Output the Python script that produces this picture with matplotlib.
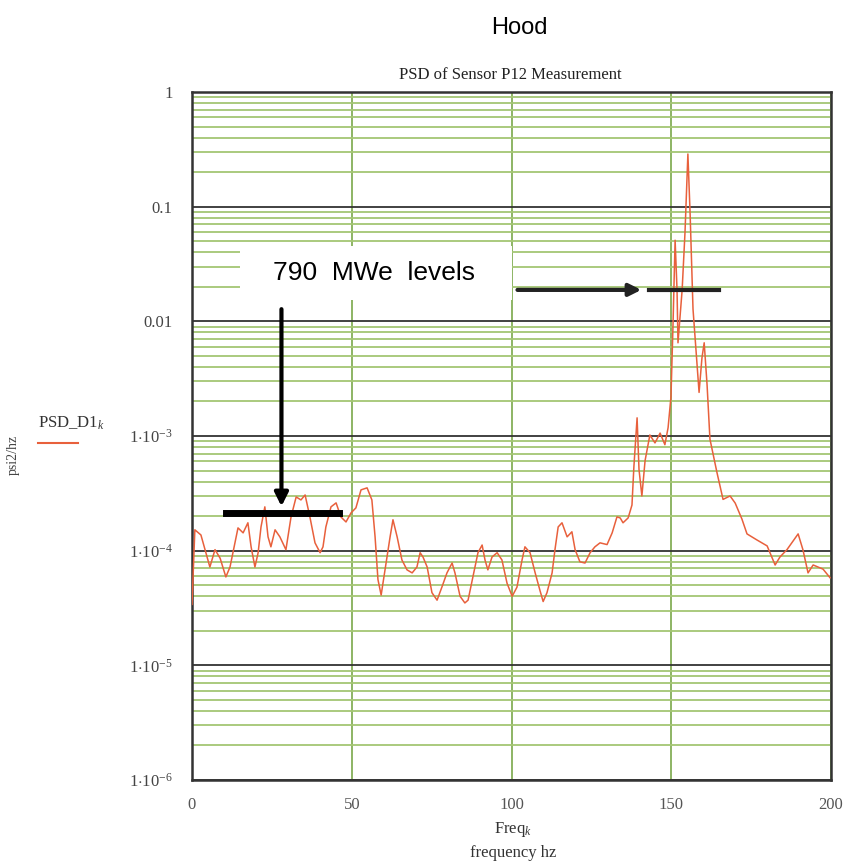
import numpy as np
import matplotlib.pyplot as plt
from matplotlib.ticker import FixedLocator, LogLocator, NullFormatter

# PSD of sensor P12
freq = [0.0, 0.9, 2.8, 5.6, 7.2, 8.8, 10.6, 11.9, 13.5, 14.4, 16.0, 17.5, 18.5, 19.7,
        20.7, 21.6, 22.8, 23.8, 24.7, 26.0, 27.5, 29.4, 31.0, 32.6, 34.1, 35.4, 36.9,
        38.5, 40.1, 41.0, 41.9, 43.5, 45.1, 46.6, 48.2, 49.8, 51.3, 52.9, 54.8, 56.3,
        57.3, 58.2, 59.2, 60.4, 62.0, 62.9, 64.2, 65.7, 67.3, 68.9, 70.4, 71.4, 72.3,
        73.6, 75.1, 76.7, 78.2, 79.8, 81.4, 82.3, 83.9, 85.4, 86.4, 87.9, 89.5, 90.8,
        91.7, 92.6, 93.9, 95.5, 97.0, 98.6, 100.2, 101.7, 103.3, 104.2, 105.8, 107.4,
        108.9, 109.9, 111.1, 112.7, 113.6, 114.6, 115.8, 117.4, 118.9, 119.9, 121.4,
        123.0, 124.6, 126.1, 127.7, 129.9, 131.5, 133.0, 134.0, 134.9, 136.5, 137.7,
        138.3, 139.3, 139.9, 140.8, 141.8, 143.3, 144.9, 146.5, 148.0, 149.0, 149.9,
        150.5, 151.2, 151.8, 152.1, 153.4, 154.3, 155.2, 155.9, 156.8, 158.1, 158.7,
        159.6, 160.3, 161.2, 162.1, 164.3, 166.2, 168.4, 170.0, 172.1, 173.7, 176.8,
        180.0, 182.5, 184.0, 186.2, 189.7, 191.2, 192.8, 194.4, 197.5, 199.7]
psd = [3.4e-5, 1.52e-4, 1.37e-4, 7.2e-5, 1.02e-4, 8.6e-5, 5.9e-5, 7.2e-5, 1.19e-4,
       1.58e-4, 1.43e-4, 1.75e-4, 1.08e-4, 7.2e-5, 9.6e-5, 1.61e-4, 2.41e-4, 1.32e-4,
       1.08e-4, 1.52e-4, 1.32e-4, 1.02e-4, 1.97e-4, 2.94e-4, 2.77e-4, 3.06e-4, 1.97e-4,
       1.17e-4, 9.6e-5, 1.08e-4, 1.61e-4, 2.41e-4, 2.61e-4, 1.97e-4, 1.78e-4, 2.14e-4,
       2.36e-4, 3.39e-4, 3.53e-4, 2.77e-4, 1.32e-4, 5.6e-5, 4.1e-5, 6.8e-5, 1.32e-4,
       1.86e-4, 1.32e-4, 8.3e-5, 6.8e-5, 6.4e-5, 7.2e-5, 9.6e-5, 8.8e-5, 7.2e-5, 4.3e-5,
       3.7e-5, 4.8e-5, 6.4e-5, 7.8e-5, 6.4e-5, 4.0e-5, 3.5e-5, 3.7e-5, 5.9e-5, 9.6e-5,
       1.12e-4, 8.3e-5, 6.8e-5, 8.8e-5, 9.6e-5, 8.3e-5, 5.2e-5, 4.0e-5, 4.8e-5, 8.3e-5,
       1.08e-4, 9.6e-5, 6.4e-5, 4.5e-5, 3.6e-5, 4.3e-5, 6.4e-5, 1.02e-4, 1.61e-4,
       1.75e-4, 1.32e-4, 1.46e-4, 1.02e-4, 8.0e-5, 7.8e-5, 9.6e-5, 1.08e-4, 1.17e-4,
       1.13e-4, 1.43e-4, 1.97e-4, 1.93e-4, 1.75e-4, 1.93e-4, 2.5e-4, 5.4e-4, 1.44e-3,
       5.1e-4, 3.0e-4, 6.1e-4, 1.02e-3, 8.7e-4, 1.06e-3, 8.4e-4, 1.18e-3, 2.19e-3,
       8.4e-3, 5.1e-2, 1.88e-2, 6.5e-3, 1.88e-2, 6.0e-2, 0.288, 8.6e-2, 1.28e-2, 4.1e-3,
       2.4e-3, 4.8e-3, 6.5e-3, 2.8e-3, 9.4e-4, 4.8e-4, 2.8e-4, 3.0e-4, 2.6e-4, 1.89e-4,
       1.4e-4, 1.24e-4, 1.1e-4, 7.5e-5, 8.8e-5, 1.02e-4, 1.4e-4, 1.02e-4, 6.4e-5, 7.5e-5,
       6.9e-5, 5.8e-5]

xticks = [0, 50, 100, 150, 200]
ydecades = [1e-6, 1e-5, 1e-4, 1e-3, 1e-2, 1e-1, 1]
ylabels = [r'1$\cdot$10$^{-6}$', r'1$\cdot$10$^{-5}$', r'1$\cdot$10$^{-4}$',
           r'1$\cdot$10$^{-3}$', '0.01', '0.1', '1']

# annotation levels (790 MWe)
level_low = 2.14e-4   # 10 .. 46 Hz
level_high = 1.88e-2  # 143 .. 165 Hz

plt.rcParams['mathtext.fontset'] = 'custom'
plt.rcParams['mathtext.rm'] = 'Liberation Serif'
plt.rcParams['mathtext.it'] = 'Liberation Serif:italic'

fig = plt.figure(figsize=(8.48, 8.68), dpi=100)
ax = fig.add_axes([0.2264, 0.1014, 0.7536, 0.7926])

grn = '#a4c674'
ax.set_yscale('log')
ax.set_xlim(0, 200)
ax.set_ylim(1e-6, 1)
ax.yaxis.set_major_locator(FixedLocator(ydecades))
ax.yaxis.set_minor_locator(LogLocator(base=10, subs=np.arange(2, 10)))
ax.yaxis.set_minor_formatter(NullFormatter())
ax.set_yticks(ydecades, ylabels)
ax.set_xticks(xticks, [str(t) for t in xticks])
ax.tick_params(which='both', length=0)
ax.tick_params(axis='y', pad=14, labelsize=12, labelcolor='#444444')
ax.tick_params(axis='x', pad=12, labelsize=12, labelcolor='#555555')
for lab in ax.get_xticklabels() + ax.get_yticklabels():
    lab.set_family('Liberation Serif')

ax.grid(True, which='minor', axis='y', color=grn, lw=1.3)
ax.grid(True, which='major', axis='y', color='#333333', lw=1.3)
ax.grid(True, which='major', axis='x', color='#7aa84a', lw=1.2)
for s in ax.spines.values():
    s.set_color('#333333')
    s.set_linewidth(1.8)

ax.plot(freq, psd, color='#e8603c', lw=1.1, zorder=3)

# white box behind the annotation text
ax.fill_between([15, 100], [0.0155, 0.0155], [0.045, 0.045], color='white', zorder=4, lw=0)
ax.text(57, 0.0265, '790  MWe  levels', family='Liberation Sans', fontsize=19,
        ha='center', va='center', zorder=5)

ax.annotate('', xy=(141.5, level_high), xytext=(101, level_high),
            arrowprops=dict(arrowstyle='-|>', color='#222222', lw=3, mutation_scale=18),
            zorder=5)
ax.plot([143, 165], [level_high, level_high], color='#222222', lw=3, zorder=5)

ax.annotate('', xy=(28, 2.3e-4), xytext=(28, 0.0135),
            arrowprops=dict(arrowstyle='-|>', color='black', lw=3, mutation_scale=20),
            zorder=5)
ax.plot([10.5, 46], [level_low, level_low], color='black', lw=5, zorder=5)

fig.text(0.613, 0.968, 'Hood', family='Liberation Sans', fontsize=17, ha='center', va='center')
fig.text(0.602, 0.914, 'PSD of Sensor P12 Measurement', family='Liberation Serif',
         fontsize=12, ha='center', va='center', color='#222222')
fig.text(0.605, 0.044, r'Freq$_{k}$', family='Liberation Serif', fontsize=12,
         ha='center', va='center', color='#333333')
fig.text(0.605, 0.017, 'frequency hz', family='Liberation Serif', fontsize=12,
         ha='center', va='center', color='#333333')
fig.text(0.016, 0.476, 'psi2/hz', family='Liberation Serif', fontsize=10,
         ha='center', va='center', rotation=90, color='#444444')
fig.text(0.045, 0.512, r'PSD_D1$_{k}$', family='Liberation Serif', fontsize=12,
         ha='left', va='center', color='#333333')
fig.add_artist(plt.Line2D([0.045, 0.092], [0.49, 0.49], color='#e8603c', lw=1.5))

fig.savefig('out.png', dpi=100, facecolor='white')
